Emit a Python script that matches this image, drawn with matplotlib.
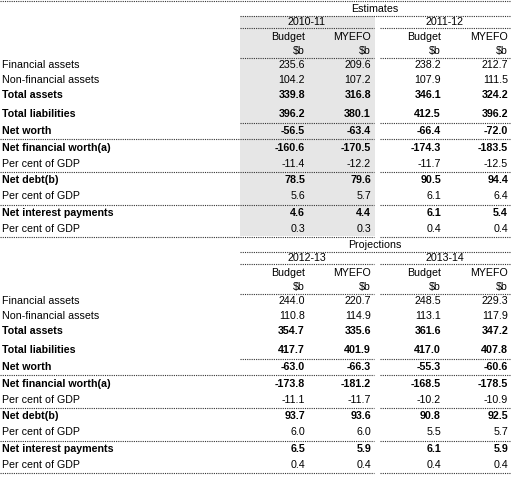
import matplotlib
matplotlib.use("Agg")
import matplotlib.pyplot as plt

row_labels = ["Financial assets", "Non-financial assets", "Total assets", "Total liabilities",
              "Net worth", "Net financial worth(a)", "Per cent of GDP", "Net debt(b)",
              "Per cent of GDP", "Net interest payments", "Per cent of GDP"]
bold_rows = [False, False, True, True, True, True, False, True, False, True, False]
years_top = ["2010-11", "2011-12"]
years_bot = ["2012-13", "2013-14"]
est_values = [
    ["235.6", "209.6", "238.2", "212.7"],
    ["104.2", "107.2", "107.9", "111.5"],
    ["339.8", "316.8", "346.1", "324.2"],
    ["396.2", "380.1", "412.5", "396.2"],
    ["-56.5", "-63.4", "-66.4", "-72.0"],
    ["-160.6", "-170.5", "-174.3", "-183.5"],
    ["-11.4", "-12.2", "-11.7", "-12.5"],
    ["78.5", "79.6", "90.5", "94.4"],
    ["5.6", "5.7", "6.1", "6.4"],
    ["4.6", "4.4", "6.1", "5.4"],
    ["0.3", "0.3", "0.4", "0.4"],
]
proj_values = [
    ["244.0", "220.7", "248.5", "229.3"],
    ["110.8", "114.9", "113.1", "117.9"],
    ["354.7", "335.6", "361.6", "347.2"],
    ["417.7", "401.9", "417.0", "407.8"],
    ["-63.0", "-66.3", "-55.3", "-60.6"],
    ["-173.8", "-181.2", "-168.5", "-178.5"],
    ["-11.1", "-11.7", "-10.2", "-10.9"],
    ["93.7", "93.6", "90.8", "92.5"],
    ["6.0", "6.0", "5.5", "5.7"],
    ["6.5", "5.9", "6.1", "5.9"],
    ["0.4", "0.4", "0.4", "0.4"],
]

plt.rcParams['font.family'] = ['Liberation Sans', 'DejaVu Sans']
fig = plt.figure(figsize=(5.13, 4.79), dpi=100)
ax = fig.add_axes([0, 0, 1, 1])
ax.set_xlim(0, 513)
ax.set_ylim(479, 0)
ax.axis('off')

FS = 7.7
col_right = [305, 371, 441, 508]
lc = '#333333'

def hline(y, x0, x1):
    ax.plot([x0, x1], [y, y], color=lc, lw=0.8, ls=(0, (1, 1)))

def block(y0, title, years, values, shade):
    row_off = [65, 80, 95, 114, 131, 148, 164, 180, 196, 213, 229]
    if shade:
        ax.add_patch(plt.Rectangle((240, y0 + 16), 135, 236 - 16, color='#e6e6e6', lw=0, zorder=0))
    ax.text(375, y0 + 9, title, ha='center', va='center', fontsize=FS)
    hline(y0 + 16, 240, 510)
    ax.text(307, y0 + 22, years[0], ha='center', va='center', fontsize=FS)
    ax.text(445, y0 + 22, years[1], ha='center', va='center', fontsize=FS)
    hline(y0 + 28, 240, 374)
    hline(y0 + 28, 380, 510)
    for i, xr in enumerate(col_right):
        ax.text(xr, y0 + 37, ["Budget", "MYEFO"][i % 2], ha='right', va='center', fontsize=FS)
        ax.text(xr, y0 + 51, "$b", ha='right', va='center', fontsize=FS)
    hline(y0 + 58, 240, 374)
    hline(y0 + 58, 380, 510)
    for r, (lab, b) in enumerate(zip(row_labels, bold_rows)):
        y = y0 + row_off[r]
        fw = 'bold' if b else 'normal'
        ax.text(2, y, lab, ha='left', va='center', fontsize=FS, fontweight=fw)
        for c, xr in enumerate(col_right):
            ax.text(xr, y, values[r][c], ha='right', va='center', fontsize=FS, fontweight=fw)
    hline(y0 + 123, 240, 374)
    hline(y0 + 123, 380, 510)
    for yy in (139, 172, 205, 237):
        hline(y0 + yy, 0, 374)
        hline(y0 + yy, 380, 510)

hline(1, 0, 510)
block(0, "Estimates", years_top, est_values, True)
block(236, "Projections", years_bot, proj_values, False)

fig.savefig("out.png", dpi=100)
